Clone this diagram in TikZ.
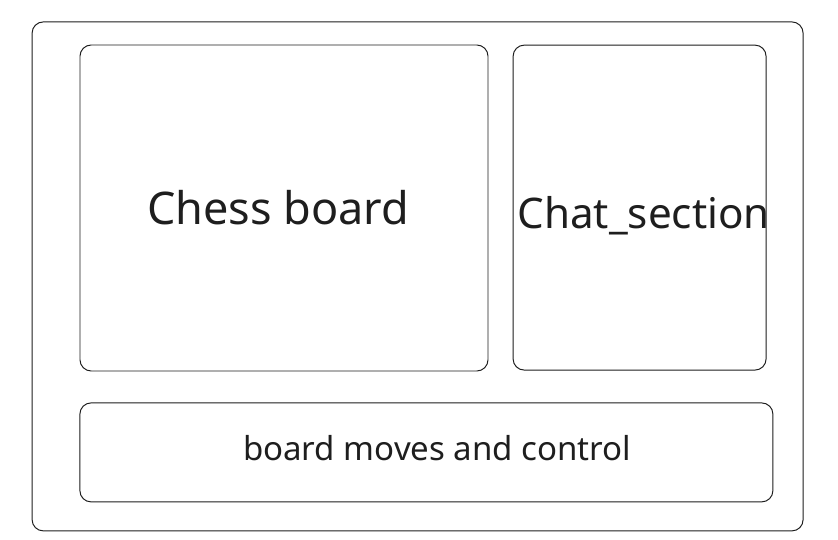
\documentclass[tikz,border=0pt]{standalone}
\usepackage{fontspec}
\setmainfont{Noto Sans}
\usepackage{tikz}
\usetikzlibrary{shapes.geometric}
\definecolor{sketch}{HTML}{1E1E1E}
\tikzstyle{panel} = [rectangle, rounded corners=0.28cm,
draw=sketch,
line width=0.7pt,
fill=white]
\tikzstyle{caption} = [text=sketch, inner sep=0pt]

\begin{document}
\begin{tikzpicture}
				\useasboundingbox (0,0) rectangle (20.95,-13.475);
				\node[panel, minimum width=19.275cm, minimum height=12.725cm] (page) at (10.44,-6.91) {};
				\node[panel, minimum width=10.2cm, minimum height=8.15cm] (board) at (7.1,-5.2) {};
				\node[panel, minimum width=6.325cm, minimum height=8.125cm] (chat) at (15.99,-5.19) {};
				\node[panel, minimum width=17.325cm, minimum height=2.475cm] (controls) at (10.66,-11.31) {};

				\node[caption, font=\fontsize{32}{38}\selectfont] (board-t) at (6.95,-5.2) {Chess board};
				\node[caption, font=\fontsize{30}{36}\selectfont] (chat-t) at (16.09,-5.4) {Chat\_section};
				\node[caption, font=\fontsize{23.5}{28}\selectfont] (controls-t) at (10.93,-11.2) {board moves and control};
			\end{tikzpicture}
\end{document}
